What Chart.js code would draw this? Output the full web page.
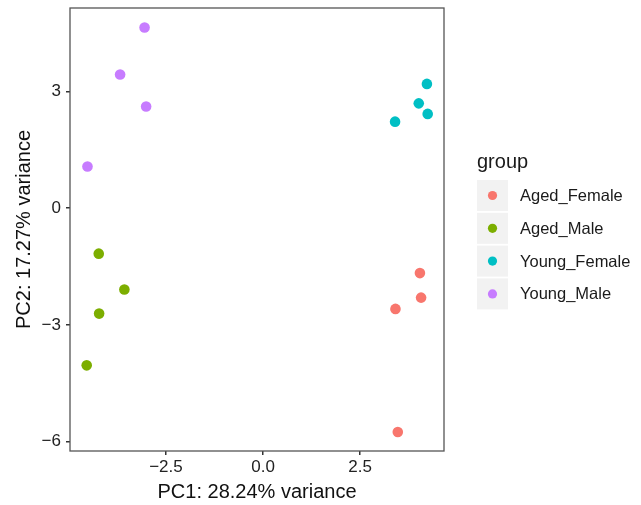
<!DOCTYPE html>
<html>
<head>
<meta charset="utf-8">
<script src="https://cdn.jsdelivr.net/npm/chart.js@4"></script>
<style>
  html, body { margin: 0; padding: 0; background: #fff; }
  #wrap { width: 641px; height: 505px; }
</style>
</head>
<body>
<div id="wrap"><canvas id="pcaChart" width="641" height="505"></canvas></div>
<script>
var groups = ['Aged_Female', 'Aged_Male', 'Young_Female', 'Young_Male'];
var groupColors = ['#F8766D', '#7CAE00', '#00BFC4', '#C77CFF'];

// PC1 / PC2 per sample, one list per group
var pc1 = [
    [4.04, 4.07, 3.41, 3.47],
    [-4.23, -3.57, -4.22, -4.54],
    [4.22, 4.01, 4.24, 3.40],
    [-3.05, -3.68, -3.01, -4.52]
];
var pc2 = [
    [-1.67, -2.30, -2.59, -5.75],
    [-1.17, -2.09, -2.71, -4.04],
    [3.19, 2.69, 2.42, 2.22],
    [4.64, 3.43, 2.61, 1.07]
];

var xTicks = [-2.5, 0, 2.5];
var yTicks = [-6, -3, 0, 3];

function minus(s) { return s.replace('-', '\u2212'); }

var datasets = groups.map(function (g, i) {
    return {
        label: g,
        data: pc1[i].map(function (x, j) { return { x: x, y: pc2[i][j] }; }),
        backgroundColor: groupColors[i],
        borderWidth: 0,
        pointRadius: 5.3,
        pointHoverRadius: 5.3
    };
});

var panelBorder = {
    id: 'panelBorder',
    afterDraw: function (chart) {
        var a = chart.chartArea, ctx = chart.ctx;
        ctx.save();
        ctx.strokeStyle = '#555';
        ctx.lineWidth = 1.3;
        ctx.strokeRect(a.left, a.top, a.right - a.left, a.bottom - a.top);
        ctx.restore();
    }
};

// ggplot style legend: grey key boxes with a dot
var groupLegend = {
    id: 'groupLegend',
    afterDraw: function (chart) {
        var ctx = chart.ctx;
        var left = 477, top = 180, key = 31, pitch = 32.8;
        ctx.save();
        ctx.fillStyle = '#1a1a1a';
        ctx.font = '20px "Liberation Sans", Arial, sans-serif';
        ctx.textBaseline = 'alphabetic';
        ctx.fillText('group', left, 168);
        ctx.font = '16.5px "Liberation Sans", Arial, sans-serif';
        ctx.textBaseline = 'middle';
        chart.data.datasets.forEach(function (ds, i) {
            var y = top + i * pitch;
            ctx.fillStyle = '#F2F2F2';
            ctx.fillRect(left, y, key, key);
            ctx.fillStyle = ds.backgroundColor;
            ctx.beginPath();
            ctx.arc(left + key / 2, y + key / 2, 4.6, 0, Math.PI * 2);
            ctx.fill();
            ctx.fillStyle = '#1a1a1a';
            ctx.fillText(ds.label, 520, y + key / 2 + 1);
        });
        ctx.restore();
    }
};

var tickFont = { family: '"Liberation Sans", Arial, sans-serif', size: 17 };
var titleFont = { family: '"Liberation Sans", Arial, sans-serif', size: 20 };

new Chart(document.getElementById('pcaChart').getContext('2d'), {
    type: 'scatter',
    data: { datasets: datasets },
    options: {
        responsive: false,
        animation: false,
        layout: { padding: { left: 0, top: 8, right: 197, bottom: 0 } },
        plugins: { legend: { display: false }, tooltip: { enabled: false } },
        scales: {
            x: {
                min: -4.97,
                max: 4.66,
                afterFit: function (s) { s.height = 54; s.paddingLeft = 0; s.paddingRight = 0; },
                afterBuildTicks: function (s) { s.ticks = xTicks.map(function (v) { return { value: v }; }); },
                grid: { display: true, drawOnChartArea: false, drawTicks: true, tickLength: 4, color: '#333', lineWidth: 1.5 },
                border: { display: false },
                ticks: {
                    color: '#222', font: tickFont, padding: 2, maxRotation: 0,
                    callback: function (v) { return minus(v.toFixed(1)); }
                },
                title: { display: true, text: 'PC1: 28.24% variance', color: '#111', font: titleFont, padding: { top: 0, bottom: 1 } }
            },
            y: {
                min: -6.24,
                max: 5.14,
                afterFit: function (s) { s.width = 70; s.paddingTop = 0; s.paddingBottom = 0; },
                afterBuildTicks: function (s) { s.ticks = yTicks.map(function (v) { return { value: v }; }); },
                grid: { display: true, drawOnChartArea: false, drawTicks: true, tickLength: 4, color: '#333', lineWidth: 1.5 },
                border: { display: false },
                ticks: {
                    color: '#222', font: tickFont, padding: 5,
                    callback: function (v) { return minus(String(v)); }
                },
                title: { display: true, text: 'PC2: 17.27% variance', color: '#111', font: titleFont, padding: { top: 12, bottom: 0 } }
            }
        }
    },
    plugins: [panelBorder, groupLegend]
});
</script>
</body>
</html>
